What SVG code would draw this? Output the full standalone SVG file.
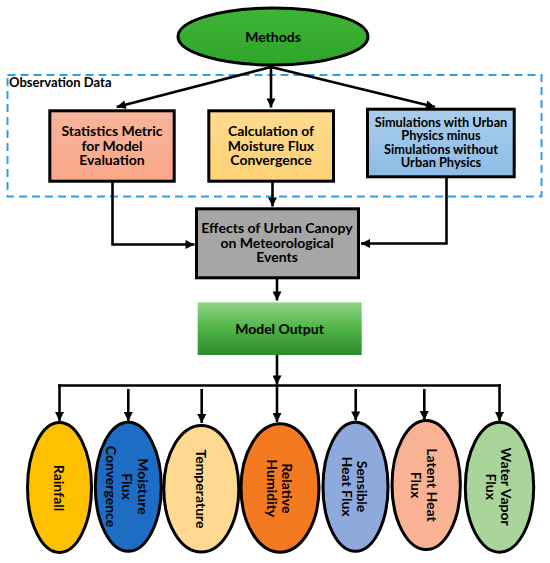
<svg xmlns="http://www.w3.org/2000/svg" width="550" height="563" viewBox="0 0 550 563">
<defs>
<style>
text{font-family:Lato,"Liberation Sans",Arial,sans-serif;font-weight:bold;fill:#000;}
.t14{font-size:14px;text-anchor:middle;}
.t13{font-size:12.8px;text-anchor:middle;}
.rt{font-size:14px;text-anchor:middle;dominant-baseline:central;}
.box{stroke:#000;stroke-width:3;}
.ell{stroke:#000;stroke-width:3;}
.con{fill:none;stroke:#000;stroke-width:2.6;}
</style>
<marker id="ah" viewBox="0 0 10 10" refX="10" refY="5" markerWidth="10" markerHeight="9" markerUnits="userSpaceOnUse" orient="auto">
<path d="M0,0 L10,5 L0,10 z" fill="#000"/>
</marker>
<linearGradient id="gStat" x1="0" y1="0" x2="0" y2="1"><stop offset="0" stop-color="#f6b49c"/><stop offset="1" stop-color="#fba786"/></linearGradient>
<linearGradient id="gCalc" x1="0" y1="0" x2="0" y2="1"><stop offset="0" stop-color="#fedb8e"/><stop offset="1" stop-color="#fdd174"/></linearGradient>
<linearGradient id="gSim" x1="0" y1="0" x2="0" y2="1"><stop offset="0" stop-color="#aacdec"/><stop offset="1" stop-color="#8dbbe4"/></linearGradient>
<linearGradient id="gOut" x1="0" y1="0" x2="0" y2="1"><stop offset="0" stop-color="#93d38a"/><stop offset="0.5" stop-color="#4db445"/><stop offset="1" stop-color="#2e8a2b"/></linearGradient>
<linearGradient id="gMeth" x1="0" y1="0" x2="0" y2="1"><stop offset="0" stop-color="#3fb537"/><stop offset="1" stop-color="#2fa42b"/></linearGradient>
</defs>

<rect x="7.5" y="75" width="534" height="121.5" fill="none" stroke="#2e9fe0" stroke-width="2" stroke-dasharray="8 5"/>
<text x="9" y="87.3" style="font-size:13px;">Observation Data</text>

<g id="connectors">
<line class="con" x1="271" y1="67" x2="116.7" y2="107" marker-end="url(#ah)"/>
<line class="con" x1="271" y1="67" x2="271" y2="107.5" marker-end="url(#ah)"/>
<line class="con" x1="271" y1="67" x2="435" y2="107" marker-end="url(#ah)"/>
<path class="con" d="M112.5,182 V244.5 H194.5" marker-end="url(#ah)"/>
<line class="con" x1="272.5" y1="182" x2="272.5" y2="206.5" marker-end="url(#ah)"/>
<path class="con" d="M446.5,178 V243.5 H361" marker-end="url(#ah)"/>
<line class="con" x1="277" y1="279" x2="277" y2="300.5" marker-end="url(#ah)"/>
<line class="con" x1="277" y1="355" x2="277" y2="384.5" marker-end="url(#ah)"/>
<line class="con" x1="58.2" y1="385.5" x2="500.8" y2="385.5"/>
<line class="con" x1="59.5" y1="384.2" x2="59.5" y2="421" marker-end="url(#ah)"/>
<line class="con" x1="128.3" y1="389" x2="128.3" y2="421" marker-end="url(#ah)"/>
<line class="con" x1="201.7" y1="389" x2="201.7" y2="423" marker-end="url(#ah)"/>
<line class="con" x1="277" y1="385.5" x2="277" y2="422" marker-end="url(#ah)"/>
<line class="con" x1="355.7" y1="389" x2="355.7" y2="420.5" marker-end="url(#ah)"/>
<line class="con" x1="424.3" y1="389" x2="424.3" y2="420" marker-end="url(#ah)"/>
<line class="con" x1="499.5" y1="384.2" x2="499.5" y2="421" marker-end="url(#ah)"/>
</g>

<g id="methods">
<ellipse cx="273" cy="36.5" rx="95" ry="28.5" fill="url(#gMeth)" class="ell"/>
<text class="t14" x="273" y="41.5">Methods</text>
</g>

<g id="statistics">
<rect x="49.8" y="110.8" width="124.4" height="70.4" fill="url(#gStat)" class="box"/>
<text class="t14" x="112" y="136">Statistics Metric</text>
<text class="t14" x="112" y="150.7">for Model</text>
<text class="t14" x="112" y="165.3">Evaluation</text>
</g>

<g id="calculation">
<rect x="208.8" y="110.8" width="124.7" height="70.4" fill="url(#gCalc)" class="box"/>
<text class="t14" x="271" y="136">Calculation of</text>
<text class="t14" x="271" y="150.7">Moisture Flux</text>
<text class="t14" x="271" y="165.3">Convergence</text>
</g>

<g id="simulations">
<rect x="367.5" y="109.2" width="146.7" height="67.6" fill="url(#gSim)" class="box"/>
<text class="t13" x="441" y="126.5">Simulations with Urban</text>
<text class="t13" x="441" y="140.1">Physics minus</text>
<text class="t13" x="441" y="153.7">Simulations without</text>
<text class="t13" x="441" y="167.3">Urban Physics</text>
</g>

<g id="effects">
<rect x="196.5" y="208.8" width="162" height="69" fill="#a6a6a6" class="box"/>
<text class="t14" x="277" y="232.7">Effects of Urban Canopy</text>
<text class="t14" x="277" y="247.5">on Meteorological</text>
<text class="t14" x="277" y="262.3">Events</text>
</g>

<g id="model-output">
<rect x="197.7" y="302.3" width="164" height="52.7" fill="url(#gOut)"/>
<text class="t14" x="279.5" y="333.5">Model Output</text>
</g>

<g id="rainfall">
<ellipse cx="59.5" cy="487.5" rx="32" ry="65" fill="#ffc000" class="ell"/>
<text class="rt" transform="translate(59.5,488) rotate(90)">Rainfall</text>
</g>
<g id="moisture-flux">
<ellipse cx="128.3" cy="486.7" rx="33" ry="64.5" fill="#1d6dc4" class="ell"/>
<text class="rt" transform="translate(143.3,486.5) rotate(90)">Moisture</text>
<text class="rt" transform="translate(127.7,486.5) rotate(90)">Flux</text>
<text class="rt" transform="translate(111.7,486.5) rotate(90)">Convergence</text>
</g>
<g id="temperature">
<ellipse cx="201.3" cy="488.8" rx="37.5" ry="63.3" fill="#ffd98f" class="ell"/>
<text class="rt" transform="translate(201.7,489) rotate(90)">Temperature</text>
</g>
<g id="relative-humidity">
<ellipse cx="280" cy="488" rx="39" ry="64.2" fill="#f47a22" class="ell"/>
<text class="rt" transform="translate(287,488.3) rotate(90)">Relative</text>
<text class="rt" transform="translate(272,488.3) rotate(90)">Humidity</text>
</g>
<g id="sensible-heat-flux">
<ellipse cx="355.5" cy="486.7" rx="32.5" ry="64.5" fill="#8eaadc" class="ell"/>
<text class="rt" transform="translate(362.7,486.5) rotate(90)">Sensible</text>
<text class="rt" transform="translate(347.3,486.5) rotate(90)">Heat Flux</text>
</g>
<g id="latent-heat-flux">
<ellipse cx="426.2" cy="485" rx="34.2" ry="64.5" fill="#f9b293" class="ell"/>
<text class="rt" transform="translate(432.3,485) rotate(90)">Latent Heat</text>
<text class="rt" transform="translate(416.7,485) rotate(90)">Flux</text>
</g>
<g id="water-vapor-flux">
<ellipse cx="499.5" cy="487.2" rx="34.2" ry="65" fill="#a9d49a" class="ell"/>
<text class="rt" transform="translate(506.7,486.7) rotate(90)">Water Vapor</text>
<text class="rt" transform="translate(491.7,486.7) rotate(90)">Flux</text>
</g>
</svg>
